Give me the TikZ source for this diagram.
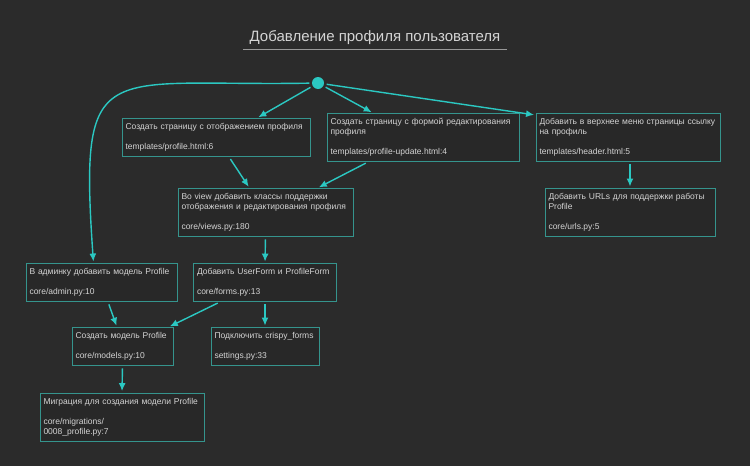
\documentclass[tikz,border=0pt]{standalone}
\usepackage{fontspec}
\setmainfont{Liberation Sans}
\usepackage{tikz}
\usetikzlibrary{arrows.meta}

\definecolor{bgdark}{HTML}{2B2B2B}
\definecolor{boxfill}{HTML}{282828}
\definecolor{linecyan}{HTML}{2BC8C2}
\definecolor{boxteal}{HTML}{35948D}
\definecolor{textgray}{HTML}{D4D4D4}

\newcommand{\nohyph}{\hyphenpenalty=10000 \exhyphenpenalty=10000\relax}

\tikzset{
	taskbox/.style={draw=boxteal, fill=boxfill, line width=0.9pt, text=textgray,
		align=left, inner xsep=3.5pt, inner ysep=5pt,
		font=\fontsize{8.5}{10}\selectfont\nohyph},
	flow/.style={-{Latex[length=8pt, width=7pt]}, linecyan, line width=1.4pt,
		shorten >=1.5pt, shorten <=2.5pt}
}

\begin{document}
\begin{tikzpicture}[x=1pt, y=-1pt]
			\fill[bgdark] (0, 0) rectangle (750, 466);
			\useasboundingbox (0, 0) rectangle (750, 466);
			
			% Title
			\node[text=textgray, font=\fontsize{15}{18}\selectfont] (title) at (375, 38) {Добавление профиля пользователя};
			\draw[gray!80, line width=0.8pt] (243, 49) -- (507, 49);
			
			% Root point
			\node[circle, fill=linecyan, inner sep=0pt, minimum size=12pt] (root) at (318, 83) {};
			
			% Top row (y=137)
			\node[taskbox, text width=181pt] (page) at (216, 137.5) {Создать страницу с отображением профиля\\[10pt]templates/profile.html:6};
			\node[taskbox, text width=185pt] (edit) at (423, 137.5) {Создать страницу с формой редактирования\\профиля\\[10pt]templates/profile-update.html:4};
			\node[taskbox, text width=177pt] (menu) at (628, 137.5) {Добавить в верхнее меню страницы ссылку\\на профиль\\[10pt]templates/header.html:5};
			
			% Second row (y=212)
			\node[taskbox, text width=168pt] (views) at (265.5, 212.5) {Во view добавить классы поддержки\\отображения и редактирования профиля\\[10pt]core/views.py:180};
			\node[taskbox, text width=163pt] (urls) at (630, 212.5) {Добавить URLs для поддержки работы\\Profile\\[10pt]core/urls.py:5};
			
			% Third row (y=282)
			\node[taskbox, text width=144pt] (admin) at (101.5, 282.5) {В админку добавить модель Profile\\[10pt]core/admin.py:10};
			\node[taskbox, text width=136pt] (forms) at (265, 282.5) {Добавить UserForm и ProfileForm\\[10pt]core/forms.py:13};
			
			% Fourth row (y=346)
			\node[taskbox, text width=94pt] (model) at (122.5, 346.5) {Создать модель Profile\\[10pt]core/models.py:10};
			\node[taskbox, text width=101pt] (crispy) at (265, 346.5) {Подключить crispy\_forms\\[10pt]settings.py:33};
			
			% Bottom (y=417)
			\node[taskbox, text width=157pt] (migr) at (122, 417) {Миграция для создания модели Profile\\[10pt]core/migrations/\\0008\_profile.py:7};
			
			% From root
			\draw[flow] (root) -- ([xshift=41pt]page.north);
			\draw[flow] (root) -- ([xshift=-50pt]edit.north);
			\draw[flow] (root) -- ([yshift=-2pt]menu.north west);
			\draw[flow] (root) to[out=181, in=94, looseness=1.9] ([xshift=-8pt]admin.north);
			
			% Between boxes
			\draw[flow] ([xshift=13pt]page.south) -- ([xshift=-16pt]views.north);
			\draw[flow] ([xshift=-55pt]edit.south) -- ([xshift=52pt]views.north);
			\draw[flow] ([xshift=2pt]menu.south) -- (urls.north);
			\draw[flow] (views.south) -- (forms.north);
			\draw[flow] ([xshift=6.5pt]admin.south) -- ([xshift=-5.5pt]model.north);
			\draw[flow] ([xshift=-45pt]forms.south) -- ([xshift=-5pt]model.north east);
			\draw[flow] (forms.south) -- (crispy.north);
			\draw[flow] (model.south) -- (migr.north);
			
		\end{tikzpicture}
\end{document}
